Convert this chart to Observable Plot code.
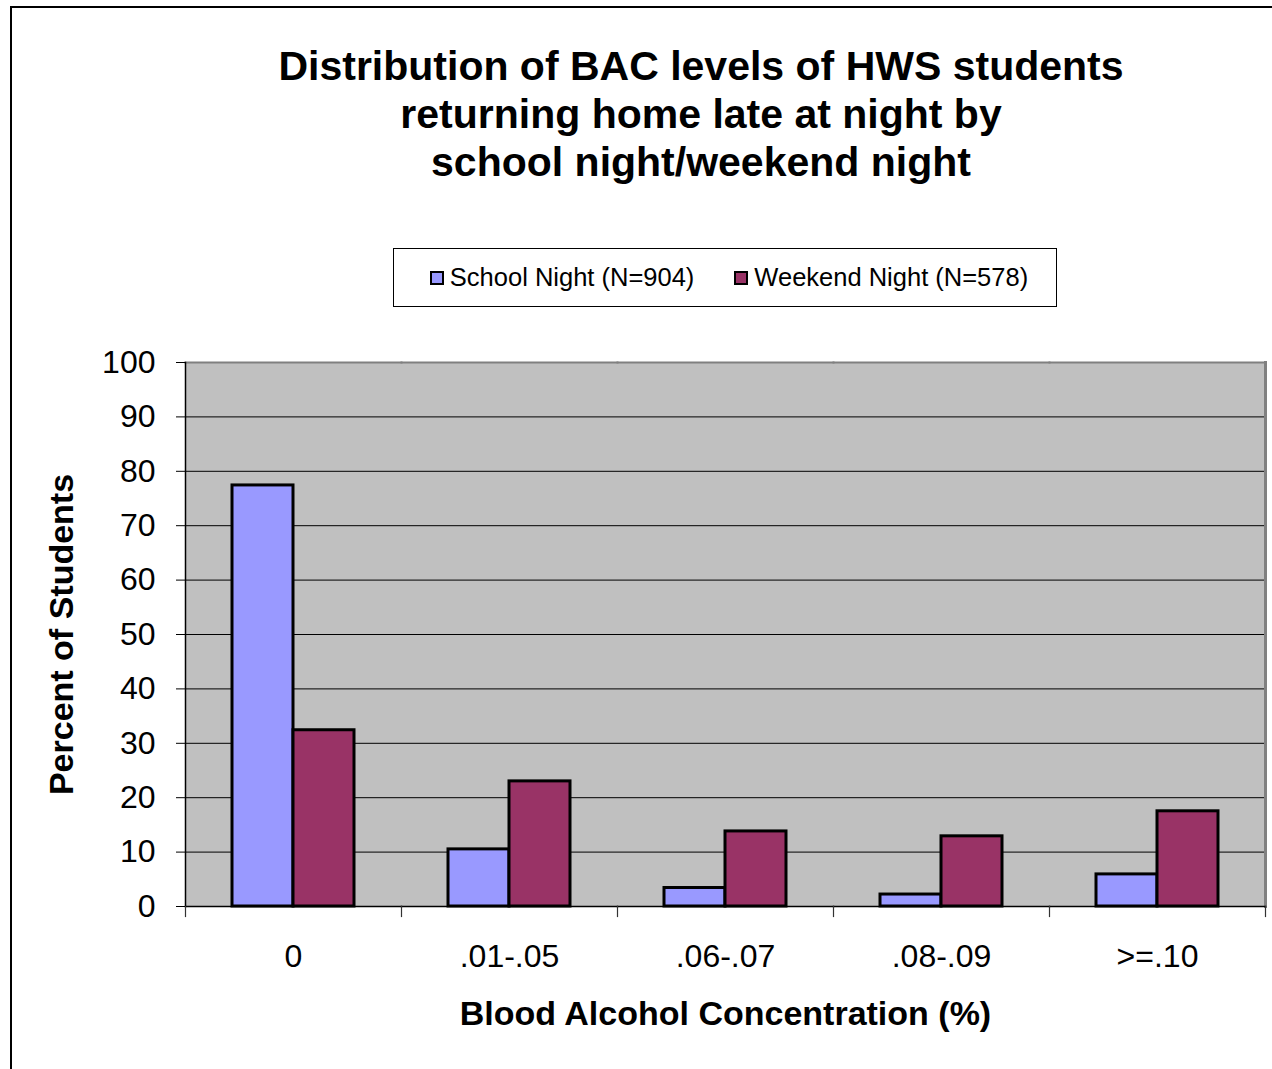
<!DOCTYPE html>
<html>
<head>
<meta charset="utf-8">
<script src="https://cdn.jsdelivr.net/npm/d3@7"></script>
<script src="https://cdn.jsdelivr.net/npm/@observablehq/plot@0.6"></script>
<style>
  html, body { margin: 0; padding: 0; background: #fff; overflow: hidden; }
  body { width: 1272px; height: 1069px; position: relative; font-family: "Liberation Sans", Arial, sans-serif; color: #000; }
  #frame { position: absolute; left: 10px; top: 6px; width: 1400px; height: 1200px; border: 2px solid #000; box-sizing: border-box; }
  #title { position: absolute; left: 0; width: 1402px; top: 42px; text-align: center; font-weight: bold; font-size: 41px; line-height: 48px; white-space: nowrap; }
  #legend { position: absolute; left: 393px; top: 248px; width: 664px; height: 59px; border: 1px solid #000; box-sizing: border-box; background: #fff;
            display: flex; align-items: center; justify-content: center; font-size: 25.5px; gap: 40px; padding-left: 8px; }
  .item { display: flex; align-items: center; white-space: nowrap; }
  .sw { width: 10px; height: 10px; border: 2px solid #000; margin-right: 6px; flex: none; }
  #chart { position: absolute; left: 0; top: 330px; }
  g[aria-label="y-axis label"] text, g[aria-label="fx-axis label"] text { font-weight: bold; font-size: 34px; }
</style>
</head>
<body>
<div id="frame"></div>
<div id="title"></div>
<div id="legend"></div>
<div id="chart"></div>
<script>
// ---- data ----
const titleLines = ["Distribution of BAC levels of HWS students", "returning home late at night by", "school night/weekend night"];
const categories = ["0", ".01-.05", ".06-.07", ".08-.09", ">=.10"];
const seriesNames = ["School Night (N=904)", "Weekend Night (N=578)"];
const schoolNight = [77.4, 10.5, 3.4, 2.2, 5.9];
const weekendNight = [32.4, 23.0, 13.8, 12.9, 17.5];
const yTicks = [0, 10, 20, 30, 40, 50, 60, 70, 80, 90, 100];
const gridTicks = [10, 20, 30, 40, 50, 60, 70, 80, 90];
const seriesColors = ["#9999FF", "#993366"];
const xLabel = "Blood Alcohol Concentration (%)";
const yLabel = "Percent of Students";

// ---- build table ----
const rows = [];
categories.forEach((c, i) => {
  rows.push({bac: c, series: seriesNames[0], value: schoolNight[i]});
  rows.push({bac: c, series: seriesNames[1], value: weekendNight[i]});
});

// title
const title = document.getElementById("title");
titleLines.forEach((t, i) => {
  if (i) title.appendChild(document.createElement("br"));
  title.appendChild(document.createTextNode(t));
});

// legend
const legend = document.getElementById("legend");
seriesNames.forEach((s, i) => {
  const it = document.createElement("div");
  it.className = "item";
  const sw = document.createElement("span");
  sw.className = "sw";
  sw.style.background = seriesColors[i];
  const tx = document.createElement("span");
  tx.textContent = s;
  it.appendChild(sw); it.appendChild(tx);
  legend.appendChild(it);
});

const chart = Plot.plot({
  width: 1272,
  height: 739,
  marginTop: 32,
  marginBottom: 163,
  marginLeft: 185,
  marginRight: 7,
  style: {fontFamily: "'Liberation Sans', Arial, sans-serif", color: "#000", background: "transparent"},
  fx: {domain: categories, padding: 0},
  x: {domain: seriesNames, paddingInner: 0, paddingOuter: 0.742, axis: null},
  y: {domain: [0, 100]},
  color: {domain: seriesNames, range: seriesColors},
  marks: [
    Plot.frame({fill: "#C0C0C0", stroke: null, insetLeft: -1, insetRight: -1, shapeRendering: "crispEdges"}),
    Plot.gridY(gridTicks, {stroke: "#000", strokeOpacity: 1, strokeWidth: 1}),
    Plot.frame({anchor: "top", stroke: "#808080", strokeWidth: 2}),
    Plot.frame({anchor: "right", facetAnchor: "right", stroke: "#808080", strokeWidth: 3}),
    Plot.barY(rows, {fx: "bac", x: "series", y: "value", fill: "series", stroke: "#000", strokeWidth: 3}),
    Plot.frame({anchor: "left", facetAnchor: "left", stroke: "#000", strokeWidth: 1.5}),
    Plot.frame({anchor: "bottom", stroke: "#000", strokeWidth: 1.5}),
    Plot.frame({anchor: "left", insetTop: 544, insetBottom: -10, stroke: "#333", strokeWidth: 1.2}),
    Plot.frame({anchor: "right", facetAnchor: "right", insetTop: 544, insetBottom: -10, stroke: "#333", strokeWidth: 1.2}),
    Plot.axisY(yTicks, {tickSize: 9, tickPadding: 21, fontSize: 32, label: yLabel, labelAnchor: "center", labelOffset: 137, labelArrow: "none"}),
    Plot.axisFx({anchor: "bottom", tickSize: 0, tickPadding: 38, fontSize: 32, label: xLabel, labelAnchor: "center", labelOffset: 118, labelArrow: "none"})
  ]
});
document.getElementById("chart").appendChild(chart);
</script>
</body>
</html>
